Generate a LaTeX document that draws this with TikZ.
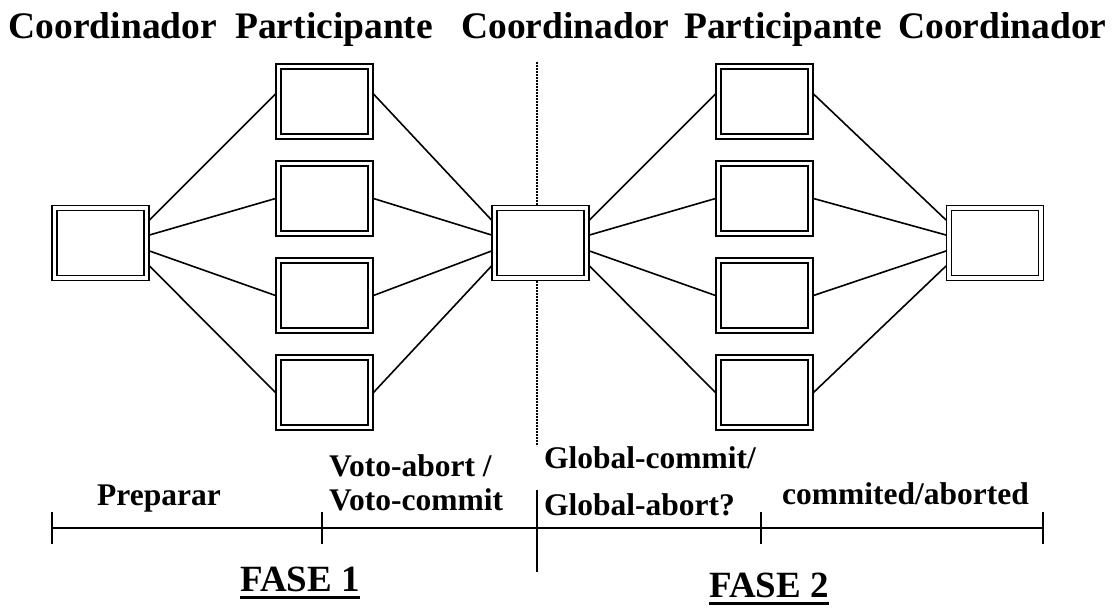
\documentclass[tikz,border=0pt]{standalone}
\usepackage{fontspec}
\setmainfont{Liberation Serif}
\begin{document}
\begin{tikzpicture}[x=1pt,y=-1pt,
  procbox/.style={draw, double, line width=1.8pt, double distance=3.2pt, fill=white,
    minimum width=92pt, minimum height=70pt, inner sep=0pt, outer sep=3pt},
  link/.style={line width=1.6pt},
  title/.style={anchor=base west, inner sep=0pt, font=\fontsize{37.5}{40}\selectfont\bfseries},
  label/.style={anchor=base west, inner sep=0pt, font=\fontsize{31.5}{36}\selectfont\bfseries},
  phase/.style={anchor=base west, inner sep=0pt, font=\fontsize{37}{40}\selectfont\bfseries},
  axis/.style={line width=2pt},
  divider/.style={line width=2pt, dash pattern=on 2pt off 1pt},
]
\useasboundingbox (0,0) rectangle (1115,607);

% column headings
\node[title] (h1) at (8.5,39) {Coordinador};
\node[title] (h2) at (235,39) {Participante};
\node[title] (h3) at (461,39) {Coordinador};
\node[title] (h4) at (684,39) {Participante};
\node[title] (h5) at (898,39) {Coordinador};

% dotted separator between the two phases
\coordinate (dtop) at (536.5,62);
\coordinate (dbot) at (536.5,446);
\draw[divider] (dtop) -- (dbot);

% processes
\node[procbox] (L) at (100.5,243) {};
\node[procbox] (M) at (540.5,243) {};
\node[procbox] (R) at (995,243) {};
\foreach \i in {1,...,4} {
  \node[procbox] (P\i) at (324.5,{101.5+97*(\i-1)}) {};
  \node[procbox] (Q\i) at (764.5,{101.5+97*(\i-1)}) {};
}

% messages
\foreach \i/\c/\p in {1/23/7.5, 2/8/0, 3/-8/0, 4/-23/0} {
  \draw[link] ([yshift=\c pt]L.east) -- ([yshift=\p pt]P\i.west);
  \draw[link] ([yshift=\p pt]P\i.east) -- ([yshift=\c pt]M.west);
  \draw[link] ([yshift=\c pt]M.east) -- ([yshift=\p pt]Q\i.west);
  \draw[link] ([yshift=\p pt]Q\i.east) -- ([yshift=\c pt]R.west);
}

% time line
\coordinate (t0) at (52,528);
\coordinate (t1) at (321.5,528);
\coordinate (t2) at (537,528);
\coordinate (t3) at (761,528);
\coordinate (t4) at (1043,528);
\draw[axis] (t0) -- (t4);
\foreach \t in {t0,t1,t3,t4}
  \draw[axis] ([yshift=16pt]\t) -- ([yshift=-16pt]\t);
\draw[axis] ([yshift=38pt]t2) -- ([yshift=-44pt]t2);

% step labels
\node[label] (s1) at (97,505) {Preparar};
\node[label] (s2a) at (329,476) {Voto-abort /};
\node[label] (s2b) at (329,510) {Voto-commit};
\node[label] (s3a) at (544,468) {Global-commit/};
\node[label] (s3b) at (544,515) {Global-abort?};
\node[label] (s4) at (782,504) {commited/aborted};

% phases
\node[phase] (f1) at (240,591) {FASE 1};
\node[phase] (f2) at (709,597) {FASE 2};
\draw[line width=3pt] ([yshift=-6pt]f1.base west) -- ([yshift=-6pt]f1.base east);
\draw[line width=3pt] ([yshift=-6pt]f2.base west) -- ([yshift=-6pt]f2.base east);
\end{tikzpicture}
\end{document}
